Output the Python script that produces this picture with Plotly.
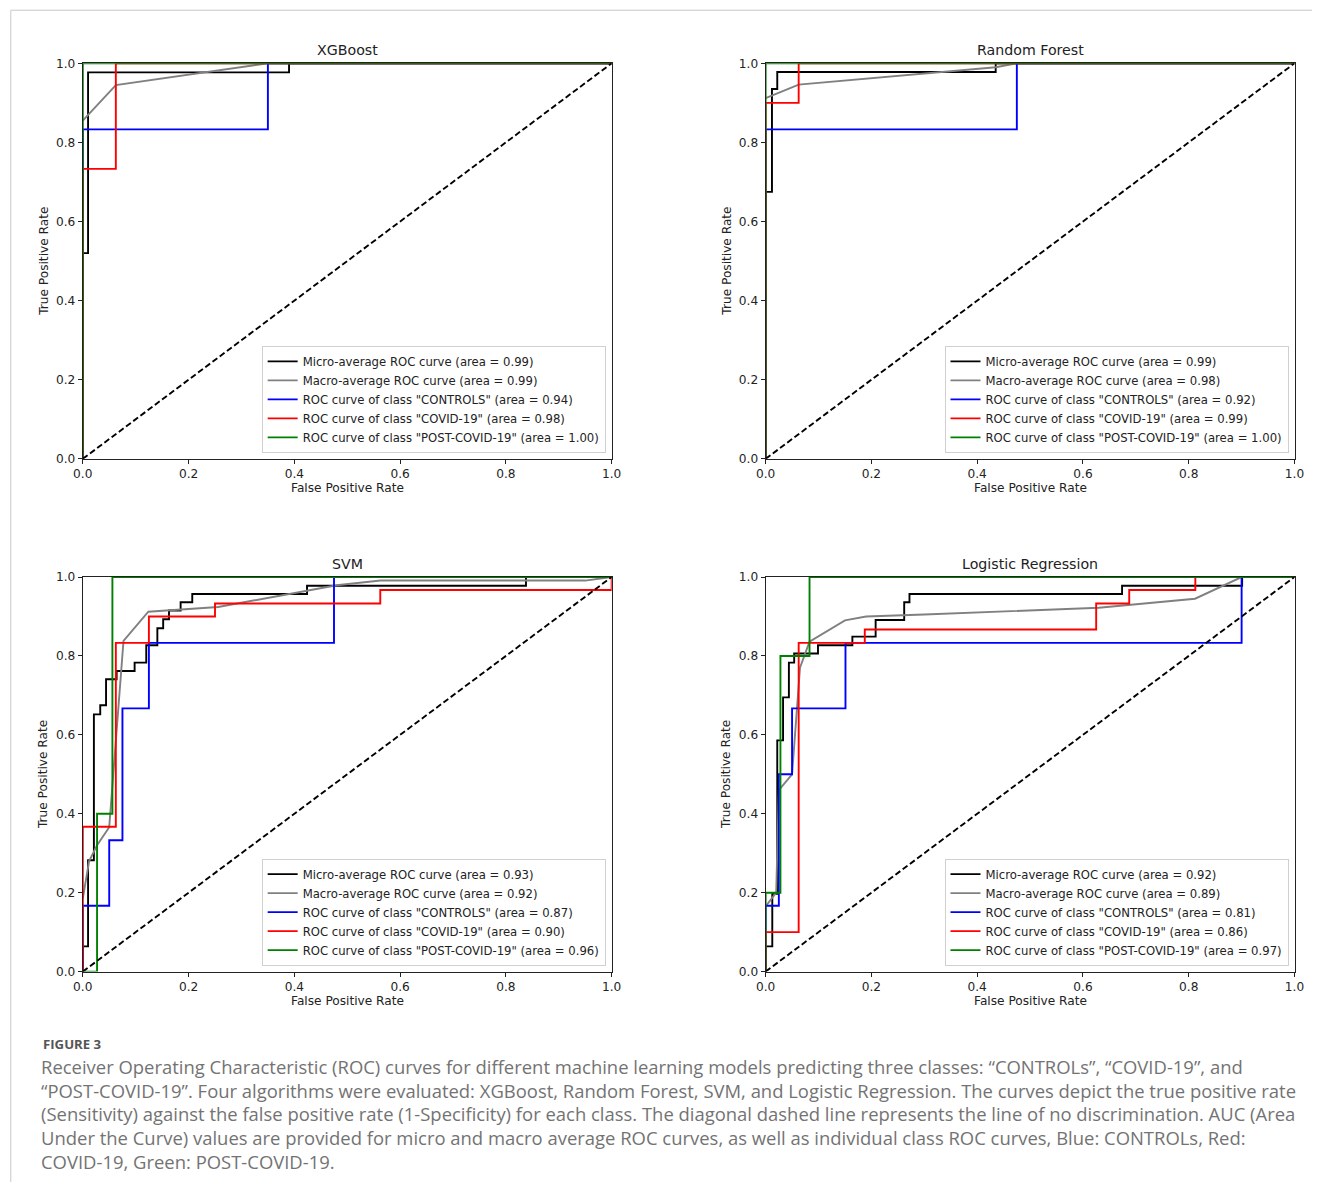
import plotly.graph_objects as go

W, H = 1322, 1189

# ---------------- data ----------------
MODELS = ["XGBoost", "Random Forest", "SVM", "Logistic Regression"]
CLASSES = ["CONTROLS", "COVID-19", "POST-COVID-19"]

# AUC values: micro, macro, CONTROLS, COVID-19, POST-COVID-19
XGB_AUC = [0.99, 0.99, 0.94, 0.98, 1.00]
RF_AUC = [0.99, 0.98, 0.92, 0.99, 1.00]
SVM_AUC = [0.93, 0.92, 0.87, 0.90, 0.96]
LR_AUC = [0.92, 0.89, 0.81, 0.86, 0.97]

# XGBoost
XGB_MICRO_FPR = [0.0, 0.0, 0.01, 0.01, 0.39, 0.39, 1.0]
XGB_MICRO_TPR = [0.0, 0.52, 0.52, 0.977, 0.977, 1.0, 1.0]
XGB_MACRO_FPR = [0.0, 0.0625, 0.35, 1.0]
XGB_MACRO_TPR = [0.855, 0.945, 1.0, 1.0]
XGB_CTRL_FPR = [0.0, 0.0, 0.35, 0.35, 1.0]
XGB_CTRL_TPR = [0.0, 0.833, 0.833, 1.0, 1.0]
XGB_COVID_FPR = [0.0, 0.0, 0.0625, 0.0625, 1.0]
XGB_COVID_TPR = [0.0, 0.733, 0.733, 1.0, 1.0]
XGB_POST_FPR = [0.0, 0.0, 1.0]
XGB_POST_TPR = [0.0, 1.0, 1.0]

# Random Forest
RF_MICRO_FPR = [0.0, 0.0, 0.012, 0.012, 0.022, 0.022, 0.435, 0.435, 1.0]
RF_MICRO_TPR = [0.0, 0.675, 0.675, 0.935, 0.935, 0.978, 0.978, 1.0, 1.0]
RF_MACRO_FPR = [0.0, 0.0625, 0.435, 0.475, 1.0]
RF_MACRO_TPR = [0.912, 0.946, 0.99, 1.0, 1.0]
RF_CTRL_FPR = [0.0, 0.0, 0.475, 0.475, 1.0]
RF_CTRL_TPR = [0.0, 0.833, 0.833, 1.0, 1.0]
RF_COVID_FPR = [0.0, 0.0, 0.0625, 0.0625, 1.0]
RF_COVID_TPR = [0.0, 0.9, 0.9, 1.0, 1.0]
RF_POST_FPR = [0.0, 0.0, 1.0]
RF_POST_TPR = [0.0, 1.0, 1.0]

# SVM
SVM_MICRO_FPR = [0.0, 0.0, 0.010, 0.010, 0.021, 0.021, 0.033, 0.033, 0.044, 0.044,
                 0.064, 0.064, 0.098, 0.098, 0.120, 0.120, 0.141, 0.141, 0.152, 0.152,
                 0.163, 0.163, 0.185, 0.185, 0.207, 0.207, 0.424, 0.424, 0.838, 0.838, 1.0]
SVM_MICRO_TPR = [0.0, 0.064, 0.064, 0.282, 0.282, 0.652, 0.652, 0.675, 0.675, 0.741,
                 0.741, 0.762, 0.762, 0.783, 0.783, 0.827, 0.827, 0.870, 0.870, 0.893,
                 0.893, 0.915, 0.915, 0.936, 0.936, 0.957, 0.957, 0.978, 0.978, 1.0, 1.0]
SVM_MACRO_FPR = [0.0, 0.012, 0.027, 0.050, 0.077, 0.124, 0.256, 0.480, 0.563, 0.950, 1.0]
SVM_MACRO_TPR = [0.185, 0.280, 0.320, 0.366, 0.838, 0.912, 0.924, 0.979, 0.991, 0.991, 1.0]
SVM_CTRL_FPR = [0.0, 0.0, 0.050, 0.050, 0.075, 0.075, 0.125, 0.125, 0.475, 0.475, 1.0]
SVM_CTRL_TPR = [0.0, 0.167, 0.167, 0.333, 0.333, 0.667, 0.667, 0.833, 0.833, 1.0, 1.0]
SVM_COVID_FPR = [0.0, 0.0, 0.0625, 0.0625, 0.125, 0.125, 0.25, 0.25, 0.5625, 0.5625, 1.0, 1.0]
SVM_COVID_TPR = [0.0, 0.367, 0.367, 0.833, 0.833, 0.900, 0.900, 0.933, 0.933, 0.967, 0.967, 1.0]
SVM_POST_FPR = [0.0, 0.027, 0.027, 0.056, 0.056, 1.0]
SVM_POST_TPR = [0.0, 0.0, 0.4, 0.4, 1.0, 1.0]

# Logistic Regression
LR_MICRO_FPR = [0.0, 0.0, 0.0126, 0.0126, 0.022, 0.022, 0.033, 0.033, 0.044, 0.044,
                0.054, 0.054, 0.099, 0.099, 0.164, 0.164, 0.208, 0.208, 0.262, 0.262,
                0.272, 0.272, 0.674, 0.674, 0.901, 0.901, 1.0]
LR_MICRO_TPR = [0.0, 0.064, 0.064, 0.197, 0.197, 0.586, 0.586, 0.695, 0.695, 0.783,
                0.783, 0.806, 0.806, 0.827, 0.827, 0.849, 0.849, 0.891, 0.891, 0.936,
                0.936, 0.957, 0.957, 0.978, 0.978, 1.0, 1.0]
LR_MACRO_FPR = [0.0, 0.020, 0.025, 0.050, 0.065, 0.083, 0.150, 0.190, 0.300, 0.630, 0.812, 0.900, 1.0]
LR_MACRO_TPR = [0.165, 0.200, 0.460, 0.500, 0.770, 0.836, 0.890, 0.900, 0.905, 0.922, 0.945, 1.0, 1.0]
LR_CTRL_FPR = [0.0, 0.0, 0.025, 0.025, 0.050, 0.050, 0.151, 0.151, 0.900, 0.900, 1.0]
LR_CTRL_TPR = [0.0, 0.167, 0.167, 0.500, 0.500, 0.667, 0.667, 0.833, 0.833, 1.0, 1.0]
LR_COVID_FPR = [0.0, 0.0, 0.0625, 0.0625, 0.1875, 0.1875, 0.625, 0.625, 0.6875, 0.6875, 0.8125, 0.8125, 1.0]
LR_COVID_TPR = [0.0, 0.100, 0.100, 0.833, 0.833, 0.867, 0.867, 0.933, 0.933, 0.967, 0.967, 1.0, 1.0]
LR_POST_FPR = [0.0, 0.0, 0.028, 0.028, 0.083, 0.083, 1.0]
LR_POST_TPR = [0.0, 0.2, 0.2, 0.8, 0.8, 1.0, 1.0]

CAPTION_LABEL = "FIGURE 3"
CAPTION_LINES = [
    "Receiver Operating Characteristic (ROC) curves for different machine learning models predicting three classes: \u201cCONTROLs\u201d, \u201cCOVID-19\u201d, and",
    "\u201cPOST-COVID-19\u201d. Four algorithms were evaluated: XGBoost, Random Forest, SVM, and Logistic Regression. The curves depict the true positive rate",
    "(Sensitivity) against the false positive rate (1-Specificity) for each class. The diagonal dashed line represents the line of no discrimination. AUC (Area",
    "Under the Curve) values are provided for micro and macro average ROC curves, as well as individual class ROC curves, Blue: CONTROLs, Red:",
    "COVID-19, Green: POST-COVID-19.",
]

TICKS = [0.0, 0.2, 0.4, 0.6, 0.8, 1.0]

# ---------------- styling / layout ----------------
COLORS = ["black", "gray", "blue", "red", "green"]
FONT = "DejaVu Sans"

# target positions in the photographed picture, (x0, x1, ytop, ybottom)
PANELS = [(82, 611, 64, 459), (765, 1294, 64, 459), (82, 611, 577, 971), (765, 1294, 577, 971)]

# the photographed page shows up slightly reduced and offset; pre-compensate
SX, OX = 0.9851, 9.2
SY, OY = 0.9868, 7.8
FS = 1 / 0.986  # font compensation

MODEL_CURVES = [
    (XGB_AUC, [(XGB_MICRO_FPR, XGB_MICRO_TPR), (XGB_MACRO_FPR, XGB_MACRO_TPR),
               (XGB_CTRL_FPR, XGB_CTRL_TPR), (XGB_COVID_FPR, XGB_COVID_TPR), (XGB_POST_FPR, XGB_POST_TPR)]),
    (RF_AUC, [(RF_MICRO_FPR, RF_MICRO_TPR), (RF_MACRO_FPR, RF_MACRO_TPR),
              (RF_CTRL_FPR, RF_CTRL_TPR), (RF_COVID_FPR, RF_COVID_TPR), (RF_POST_FPR, RF_POST_TPR)]),
    (SVM_AUC, [(SVM_MICRO_FPR, SVM_MICRO_TPR), (SVM_MACRO_FPR, SVM_MACRO_TPR),
               (SVM_CTRL_FPR, SVM_CTRL_TPR), (SVM_COVID_FPR, SVM_COVID_TPR), (SVM_POST_FPR, SVM_POST_TPR)]),
    (LR_AUC, [(LR_MICRO_FPR, LR_MICRO_TPR), (LR_MACRO_FPR, LR_MACRO_TPR),
              (LR_CTRL_FPR, LR_CTRL_TPR), (LR_COVID_FPR, LR_COVID_TPR), (LR_POST_FPR, LR_POST_TPR)]),
]


def px(x):
    return ((x - OX) / SX) / W


def py(y):
    return 1 - ((y - OY) / SY) / H


def fs(s):
    return round(s * FS, 2)


def names(auc):
    out = [f"Micro-average ROC curve (area = {auc[0]:.2f})",
           f"Macro-average ROC curve (area = {auc[1]:.2f})"]
    for c, a in zip(CLASSES, auc[2:]):
        out.append(f'ROC curve of class "{c}" (area = {a:.2f})')
    return out


fig = go.Figure()
layout = dict(
    width=W, height=H, margin=dict(l=0, r=0, t=0, b=0),
    paper_bgcolor="white", plot_bgcolor="white",
    font=dict(family=FONT, size=12, color="black"),
    hovermode=False,
)
annotations = []

for i, (model, (auc, curves), (x0, x1, yt, yb)) in enumerate(zip(MODELS, MODEL_CURVES, PANELS)):
    k = "" if i == 0 else str(i + 1)
    xa, ya = "x" + k, "y" + k
    lg = "legend" if i == 0 else "legend" + str(i + 1)
    for (fpr, tpr), col, nm in zip(curves, COLORS, names(auc)):
        fig.add_trace(go.Scatter(x=fpr, y=tpr, mode="lines", name=nm,
                                 line=dict(color=col, width=1.9),
                                 xaxis=xa, yaxis=ya, legend=lg, hoverinfo="skip"))
    fig.add_trace(go.Scatter(x=[0, 1], y=[0, 1], mode="lines", showlegend=False,
                             line=dict(color="black", width=1.9, dash="6px,3px"),
                             xaxis=xa, yaxis=ya, hoverinfo="skip"))
    axcommon = dict(range=[0, 1], tickvals=TICKS, tickformat=".1f", showgrid=False, zeroline=False,
                    showline=True, linecolor="#222", linewidth=1, mirror=True,
                    ticks="outside", ticklen=4, tickcolor="#222", tickwidth=1,
                    tickfont=dict(family=FONT, size=fs(12), color="#222"))
    layout["xaxis" + k] = dict(axcommon, domain=[px(x0), px(x1)], anchor=ya)
    layout["yaxis" + k] = dict(axcommon, domain=[py(yb), py(yt)], anchor=xa)
    layout[lg] = dict(x=px(x1 - 6), xanchor="right", y=py(yb - 6), yanchor="bottom",
                      bgcolor="rgba(255,255,255,0.8)", bordercolor="#d0d0d0", borderwidth=1,
                      font=dict(family=FONT, size=fs(11.5), color="#222"), itemwidth=30,
                      tracegroupgap=0)
    cx = (x0 + x1) / 2
    annotations.append(dict(text=model, x=px(cx), y=py(yt - 13), xref="paper", yref="paper",
                            showarrow=False, font=dict(family=FONT, size=fs(14), color="#222"),
                            xanchor="center", yanchor="middle"))
    annotations.append(dict(text="False Positive Rate", x=px(cx), y=py(yb + 29), xref="paper", yref="paper",
                            showarrow=False, font=dict(family=FONT, size=fs(12), color="#222"),
                            xanchor="center", yanchor="middle"))
    annotations.append(dict(text="True Positive Rate", x=px(x0 - 39), y=py((yt + yb) / 2), xref="paper",
                            yref="paper", showarrow=False, textangle=-90,
                            font=dict(family=FONT, size=fs(12), color="#222"),
                            xanchor="center", yanchor="middle"))

annotations.append(dict(text=f"<b>{CAPTION_LABEL}</b>", x=px(40), y=py(1043), xref="paper", yref="paper",
                        showarrow=False, xanchor="left", yanchor="middle",
                        font=dict(family="Open Sans", size=fs(13), color="#555")))
for j, line in enumerate(CAPTION_LINES):
    annotations.append(dict(text=line, x=px(38.5), y=py(1066 + j * 23.6), xref="paper", yref="paper",
                            showarrow=False, xanchor="left", yanchor="middle",
                            font=dict(family="Open Sans", size=fs(18.2), color="#737373")))

layout["annotations"] = annotations
layout["shapes"] = [
    dict(type="line", xref="paper", yref="paper", x0=px(10), x1=1.0, y0=py(11), y1=py(11),
         line=dict(color="#c8c8c8", width=1)),
    dict(type="line", xref="paper", yref="paper", x0=px(10), x1=px(10), y0=py(11), y1=0.0,
         line=dict(color="#c8c8c8", width=1)),
]
fig.update_layout(**layout)

# remove the browser's default page margin so the figure sits in the window
PAGE_FIX = "document.body.style.margin='0';document.body.style.overflow='hidden';"
fig.write_html("out.html", post_script=PAGE_FIX, config={"displayModeBar": False})
